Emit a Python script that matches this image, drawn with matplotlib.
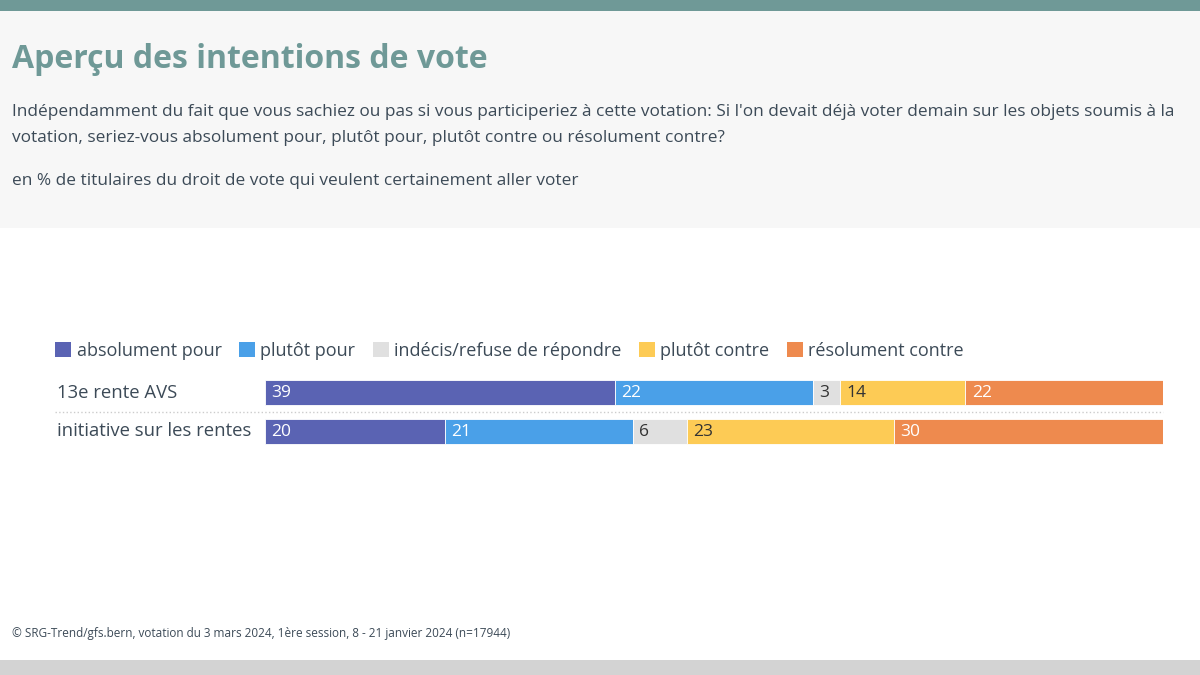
import matplotlib.pyplot as plt
import matplotlib.patches as mpatches
import matplotlib.transforms as mtransforms

#==================================================================================================
# Data
#==================================================================================================
objects = ['13e rente AVS', 'initiative sur les rentes']
categories = ['absolument pour', 'plutôt pour', 'indécis/refuse de répondre', 'plutôt contre', 'résolument contre']
values_avs = [39, 22, 3, 14, 22]
values_rentes = [20, 21, 6, 23, 30]
colors = ['#5a63b3', '#4aa0e8', '#e0e0e0', '#fdcb55', '#ee8a4e']
label_colors = ['white', 'white', '#333333', '#333333', 'white']

title = 'Aperçu des intentions de vote'
question = ("Indépendamment du fait que vous sachiez ou pas si vous participeriez à cette votation: "
            "Si l'on devait déjà voter demain sur les objets soumis à la\n"
            "votation, seriez-vous absolument pour, plutôt pour, plutôt contre ou résolument contre?")
unit_note = 'en % de titulaires du droit de vote qui veulent certainement aller voter'
source = '© SRG-Trend/gfs.bern, votation du 3 mars 2024, 1ère session, 8 - 21 janvier 2024 (n=17944)'

#==================================================================================================
# Figure
#==================================================================================================
plt.rcParams['font.family'] = ['Open Sans', 'DejaVu Sans']
W, H = 1200, 675
fig = plt.figure(figsize=(12, 6.75), dpi=100)
fig.patch.set_facecolor('white')

text_color = '#3c4a57'

# header background and bars
fig.patches.append(mpatches.Rectangle((0, 1 - 228 / H), 1, 228 / H, transform=fig.transFigure,
                                      facecolor='#f7f7f7', edgecolor='none', zorder=0))
fig.patches.append(mpatches.Rectangle((0, 1 - 11 / H), 1, 11 / H, transform=fig.transFigure,
                                      facecolor='#6f9997', edgecolor='none', zorder=1))
fig.patches.append(mpatches.Rectangle((0, 0), 1, 15 / H, transform=fig.transFigure,
                                      facecolor='#d3d3d3', edgecolor='none', zorder=1))

fig.text(12 / W, 1 - 59 / H, title, fontsize=23, fontweight='bold', color='#6f9997', va='center')
fig.text(12 / W, 1 - 125 / H, question, fontsize=12.4, color=text_color, va='center', linespacing=1.9)
fig.text(12 / W, 1 - 181 / H, unit_note, fontsize=12.4, color=text_color, va='center')
fig.text(12 / W, 1 - 634 / H, source, fontsize=8.5, color=text_color, va='center')

#==================================================================================================
# Stacked bars
#==================================================================================================
ax = fig.add_axes([265 / W, 1 - 451 / H, 898 / W, 78 / H])
ax.set_xlim(0, 100)
ax.set_ylim(1.5, -0.5)
ax.axis('off')

rows = [values_avs, values_rentes]
for i, vals in enumerate(rows):
    left = 0
    for j, v in enumerate(vals):
        ax.barh(i, v, left=left, height=0.64, color=colors[j], edgecolor='white', linewidth=0.6)
        ax.text(left + 0.7, i, str(v), color=label_colors[j], fontsize=12.5, va='center', ha='left')
        left += v

# row labels and separator
trans = mtransforms.blended_transform_factory(fig.transFigure, ax.transData)
for i, name in enumerate(objects):
    ax.text(57 / W, i, name, transform=trans, fontsize=13.3, color=text_color, va='center', ha='left')
ax.plot([55 / W, 1163 / W], [0.5, 0.5], transform=trans, color='#cccccc', linestyle=':',
        linewidth=1, clip_on=False)

# legend
handles = [mpatches.Patch(facecolor=c, edgecolor='none', label=l) for c, l in zip(colors, categories)]
leg = fig.legend(handles=handles, loc='center left', bbox_to_anchor=(55 / W, 1 - 351 / H), ncol=5,
                 frameon=False, fontsize=13, handlelength=0.9, handleheight=0.9,
                 handletextpad=0.3, columnspacing=0.95, borderaxespad=0, borderpad=0)
for t in leg.get_texts():
    t.set_color(text_color)

fig.savefig('out.png', dpi=100)
